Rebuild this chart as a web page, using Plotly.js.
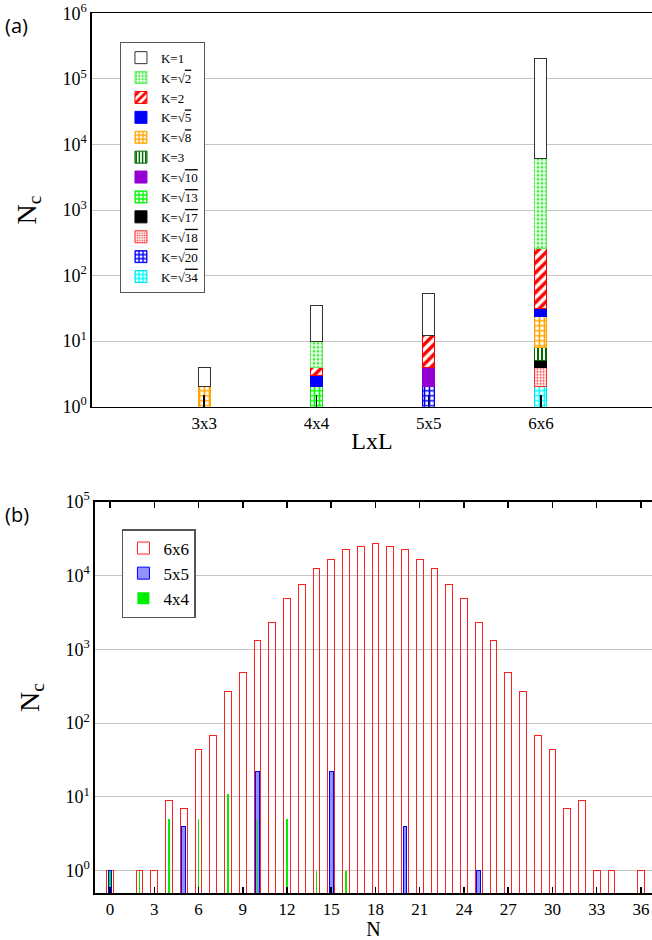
<!DOCTYPE html>
<html>
<head>
<meta charset="utf-8">
<script src="https://cdn.plot.ly/plotly-3.0.1.min.js"></script>
<style>html,body{margin:0;padding:0;background:#fff}</style>
</head>
<body>
<div id="chart" style="width:652px;height:940px"></div>
<script>
// ---- Panel (a) data: stacked counts per lattice size ----
const sizes = ['3x3', '4x4', '5x5', '6x6'];
const kLabels = ['K=1', 'K=√2', 'K=2', 'K=√5', 'K=√8', 'K=3', 'K=√10', 'K=√13', 'K=√17', 'K=√18', 'K=√20', 'K=√34'];
const kIs1   = [2, 25, 42, 197000];
const kSqrt2 = [0, 6, 0, 5888];
const k2     = [0, 1, 8, 224];
const kSqrt5 = [0, 1, 0, 8];
const kSqrt8 = [2, 0, 0, 16];
const k3     = [0, 0, 0, 3];
const kSqrt10 = [0, 0, 2, 0];
const kSqrt13 = [0, 2, 0, 0];
const kSqrt17 = [0, 0, 0, 1];
const kSqrt18 = [0, 0, 0, 2];
const kSqrt20 = [0, 0, 2, 0];
const kSqrt34 = [0, 0, 0, 2];

// ---- Panel (b) data: Nc versus N ----
const n6 = [0, 2, 3, 4, 5, 6, 7, 8, 9, 10, 11, 12, 13, 14, 15, 16, 17, 18, 19, 20, 21, 22, 23, 24, 25, 26, 27, 28, 29, 30, 31, 32, 33, 34, 36];
const nc6 = [1, 1, 1, 9, 7, 44, 67, 266, 487, 1306, 2339, 4943, 7650, 12600, 16700, 22400, 24600, 26900, 24600, 22400, 16700, 12600, 7650, 4943, 2339, 1306, 487, 266, 67, 44, 7, 9, 1, 1, 1];
const n5 = [0, 5, 10, 15, 20, 25];
const nc5 = [1, 4, 22, 22, 4, 1];
const n4 = [0, 2, 4, 6, 8, 10, 12, 14, 16];
const nc4 = [1, 1, 5, 5, 11, 5, 5, 1, 1];

const yTickVals6 = [1, 10, 100, 1000, 10000, 100000, 1000000];
const yTickText6 = ['10<sup>0</sup>', '10<sup>1</sup>', '10<sup>2</sup>', '10<sup>3</sup>', '10<sup>4</sup>', '10<sup>5</sup>', '10<sup>6</sup>'];
const yTickVals5 = [1, 10, 100, 1000, 10000, 100000];
const yTickText5 = ['10<sup>0</sup>', '10<sup>1</sup>', '10<sup>2</sup>', '10<sup>3</sup>', '10<sup>4</sup>', '10<sup>5</sup>'];

const SERIF = 'Liberation Serif, serif';
const MB = 40;        // bottom margin in px
const H = 940 - MB;   // plot-area height in px

function legendText(s) {
  // draw an overline over the radicand
  const i = s.indexOf('√');
  if (i < 0) return s;
  return s.slice(0, i + 1) + '<span style="text-decoration:overline">' + s.slice(i + 1) + '</span>';
}

// style per K (same order as kLabels)
const kStyles = [
  {color: '#ffffff', line: '#333333'},
  {color: '#ffffff', line: '#66ee66', pattern: {shape: '.', fgcolor: '#44ee44', bgcolor: '#ffffff', size: 4, solidity: 0.45}},
  {color: '#ffffff', line: '#ff0000', pattern: {shape: '/', fgcolor: '#ff0000', bgcolor: '#ffffff', size: 7, solidity: 0.5}},
  {color: '#0000ff', line: '#0000ff'},
  {color: '#ffffff', line: '#ffa500', pattern: {shape: '+', fgcolor: '#ffa500', bgcolor: '#ffffff', size: 5, solidity: 0.55}},
  {color: '#ffffff', line: '#006400', pattern: {shape: '|', fgcolor: '#007000', bgcolor: '#ffffff', size: 4, solidity: 0.5}},
  {color: '#9400d3', line: '#9400d3'},
  {color: '#ffffff', line: '#00ee00', pattern: {shape: '+', fgcolor: '#00ff00', bgcolor: '#ffffff', size: 5, solidity: 0.55}},
  {color: '#000000', line: '#000000'},
  {color: '#ffffff', line: '#ff3333', pattern: {shape: '.', fgcolor: '#ff4444', bgcolor: '#ffffff', size: 3, solidity: 0.4}},
  {color: '#ffffff', line: '#0000ff', pattern: {shape: '+', fgcolor: '#0000ff', bgcolor: '#ffffff', size: 5, solidity: 0.55}},
  {color: '#ffffff', line: '#00e0e0', pattern: {shape: '+', fgcolor: '#00ffff', bgcolor: '#ffffff', size: 5, solidity: 0.55}}
];
const kValues = [kIs1, kSqrt2, k2, kSqrt5, kSqrt8, k3, kSqrt10, kSqrt13, kSqrt17, kSqrt18, kSqrt20, kSqrt34];

const traces = [];
// stacking order: bottom = last K in legend, top = K=1
for (let i = kLabels.length - 1; i >= 0; i--) {
  const st = kStyles[i];
  const marker = {color: st.color, line: {color: st.line, width: 1}};
  if (st.pattern) marker.pattern = Object.assign({fillmode: 'replace'}, st.pattern);
  traces.push({
    type: 'bar', x: sizes, y: kValues[i], name: legendText(kLabels[i]),
    width: 0.107, marker: marker, xaxis: 'x', yaxis: 'y', legend: 'legend',
    hoverinfo: 'skip'
  });
}

traces.push({type: 'bar', x: n6, y: nc6, name: '6x6', width: 0.45,
  marker: {color: 'rgba(0,0,0,0)', line: {color: '#ff2020', width: 1}},
  xaxis: 'x2', yaxis: 'y2', legend: 'legend2', hoverinfo: 'skip'});
traces.push({type: 'bar', x: n5, y: nc5, name: '5x5', width: 0.25,
  marker: {color: 'rgba(110,110,255,0.75)', line: {color: '#0000ff', width: 1}},
  xaxis: 'x2', yaxis: 'y3', legend: 'legend2', hoverinfo: 'skip'});
traces.push({type: 'bar', x: n4, y: nc4, name: '4x4', width: 0.12,
  marker: {color: '#00ee00', line: {width: 0}},
  xaxis: 'x2', yaxis: 'y4', legend: 'legend2', hoverinfo: 'skip'});

const axisLine = {showline: true, linecolor: '#000', linewidth: 1.5, zeroline: false};

const layout = {
  width: 652, height: 940,
  margin: {l: 0, r: 0, t: 0, b: MB},
  paper_bgcolor: '#fff', plot_bgcolor: '#fff',
  barmode: 'stack',
  font: {family: SERIF, color: '#000'},
  xaxis: Object.assign({}, axisLine, {
    domain: [0.1411, 1], anchor: 'y', type: 'category',
    categoryorder: 'array', categoryarray: sizes, range: [-1, 3.99],
    ticks: 'inside', ticklen: 12, tickwidth: 1.5, tickcolor: '#000',
    mirror: true, showgrid: false, automargin: true,
    tickfont: {family: SERIF, size: 17},
    title: {text: 'LxL', font: {family: SERIF, size: 24}, standoff: 0}
  }),
  yaxis: Object.assign({}, axisLine, {
    domain: [1 - 406.7 / H, 1 - 13.3 / H], anchor: 'x', type: 'log', range: [0, 6],
    tickvals: yTickVals6, ticktext: yTickText6, ticks: '',
    showgrid: true, gridcolor: '#c4c4c4', gridwidth: 1,
    tickfont: {family: SERIF, size: 18},
    title: {text: 'N<sub>c</sub>', font: {family: SERIF, size: 28}, standoff: 18}
  }),
  xaxis2: Object.assign({}, axisLine, {
    domain: [0.1457, 1], anchor: 'y2', range: [-1.02, 36.75],
    tick0: 0, dtick: 3, ticks: 'inside', ticklen: 6, tickwidth: 1.5, tickcolor: '#000',
    mirror: 'ticks', showgrid: false,
    tickfont: {family: SERIF, size: 17},
    title: {text: 'N', font: {family: SERIF, size: 20}}
  }),
  yaxis2: Object.assign({}, axisLine, {
    domain: [1 - 893.3 / H, 1 - 501.7 / H], anchor: 'x2', type: 'log', range: [-0.307, 5],
    tickvals: yTickVals5, ticktext: yTickText5, ticks: '',
    showgrid: true, gridcolor: '#c4c4c4', gridwidth: 1,
    tickfont: {family: SERIF, size: 18},
    title: {text: 'N<sub>c</sub>', font: {family: SERIF, size: 28}, standoff: 18}
  }),
  yaxis3: {overlaying: 'y2', anchor: 'x2', type: 'log', range: [-0.307, 5], visible: false},
  yaxis4: {overlaying: 'y2', anchor: 'x2', type: 'log', range: [-0.307, 5], visible: false},
  legend: {
    x: 0.184, y: 1 - 41.7 / H, xanchor: 'left', yanchor: 'top', traceorder: 'reversed',
    bgcolor: '#fff', bordercolor: '#555', borderwidth: 1,
    font: {family: SERIF, size: 13}, itemclick: false
  },
  legend2: {
    x: 0.187, y: 1 - 529 / H, xanchor: 'left', yanchor: 'top', traceorder: 'normal',
    bgcolor: '#fff', bordercolor: '#555', borderwidth: 1.5,
    font: {family: SERIF, size: 17}, itemclick: false
  },
  annotations: [
    {text: '(a)', xref: 'paper', yref: 'paper', x: 0.005, y: 1 - 26 / H, xanchor: 'left', yanchor: 'middle',
      showarrow: false, font: {family: 'Open Sans, sans-serif', size: 20, color: '#000'}},
    {text: '(b)', xref: 'paper', yref: 'paper', x: 0.005, y: 1 - 514 / H, xanchor: 'left', yanchor: 'middle',
      showarrow: false, font: {family: 'Open Sans, sans-serif', size: 20, color: '#000'}}
  ]
};

Plotly.newPlot('chart', traces, layout, {staticPlot: true, displayModeBar: false});
</script>
</body>
</html>
